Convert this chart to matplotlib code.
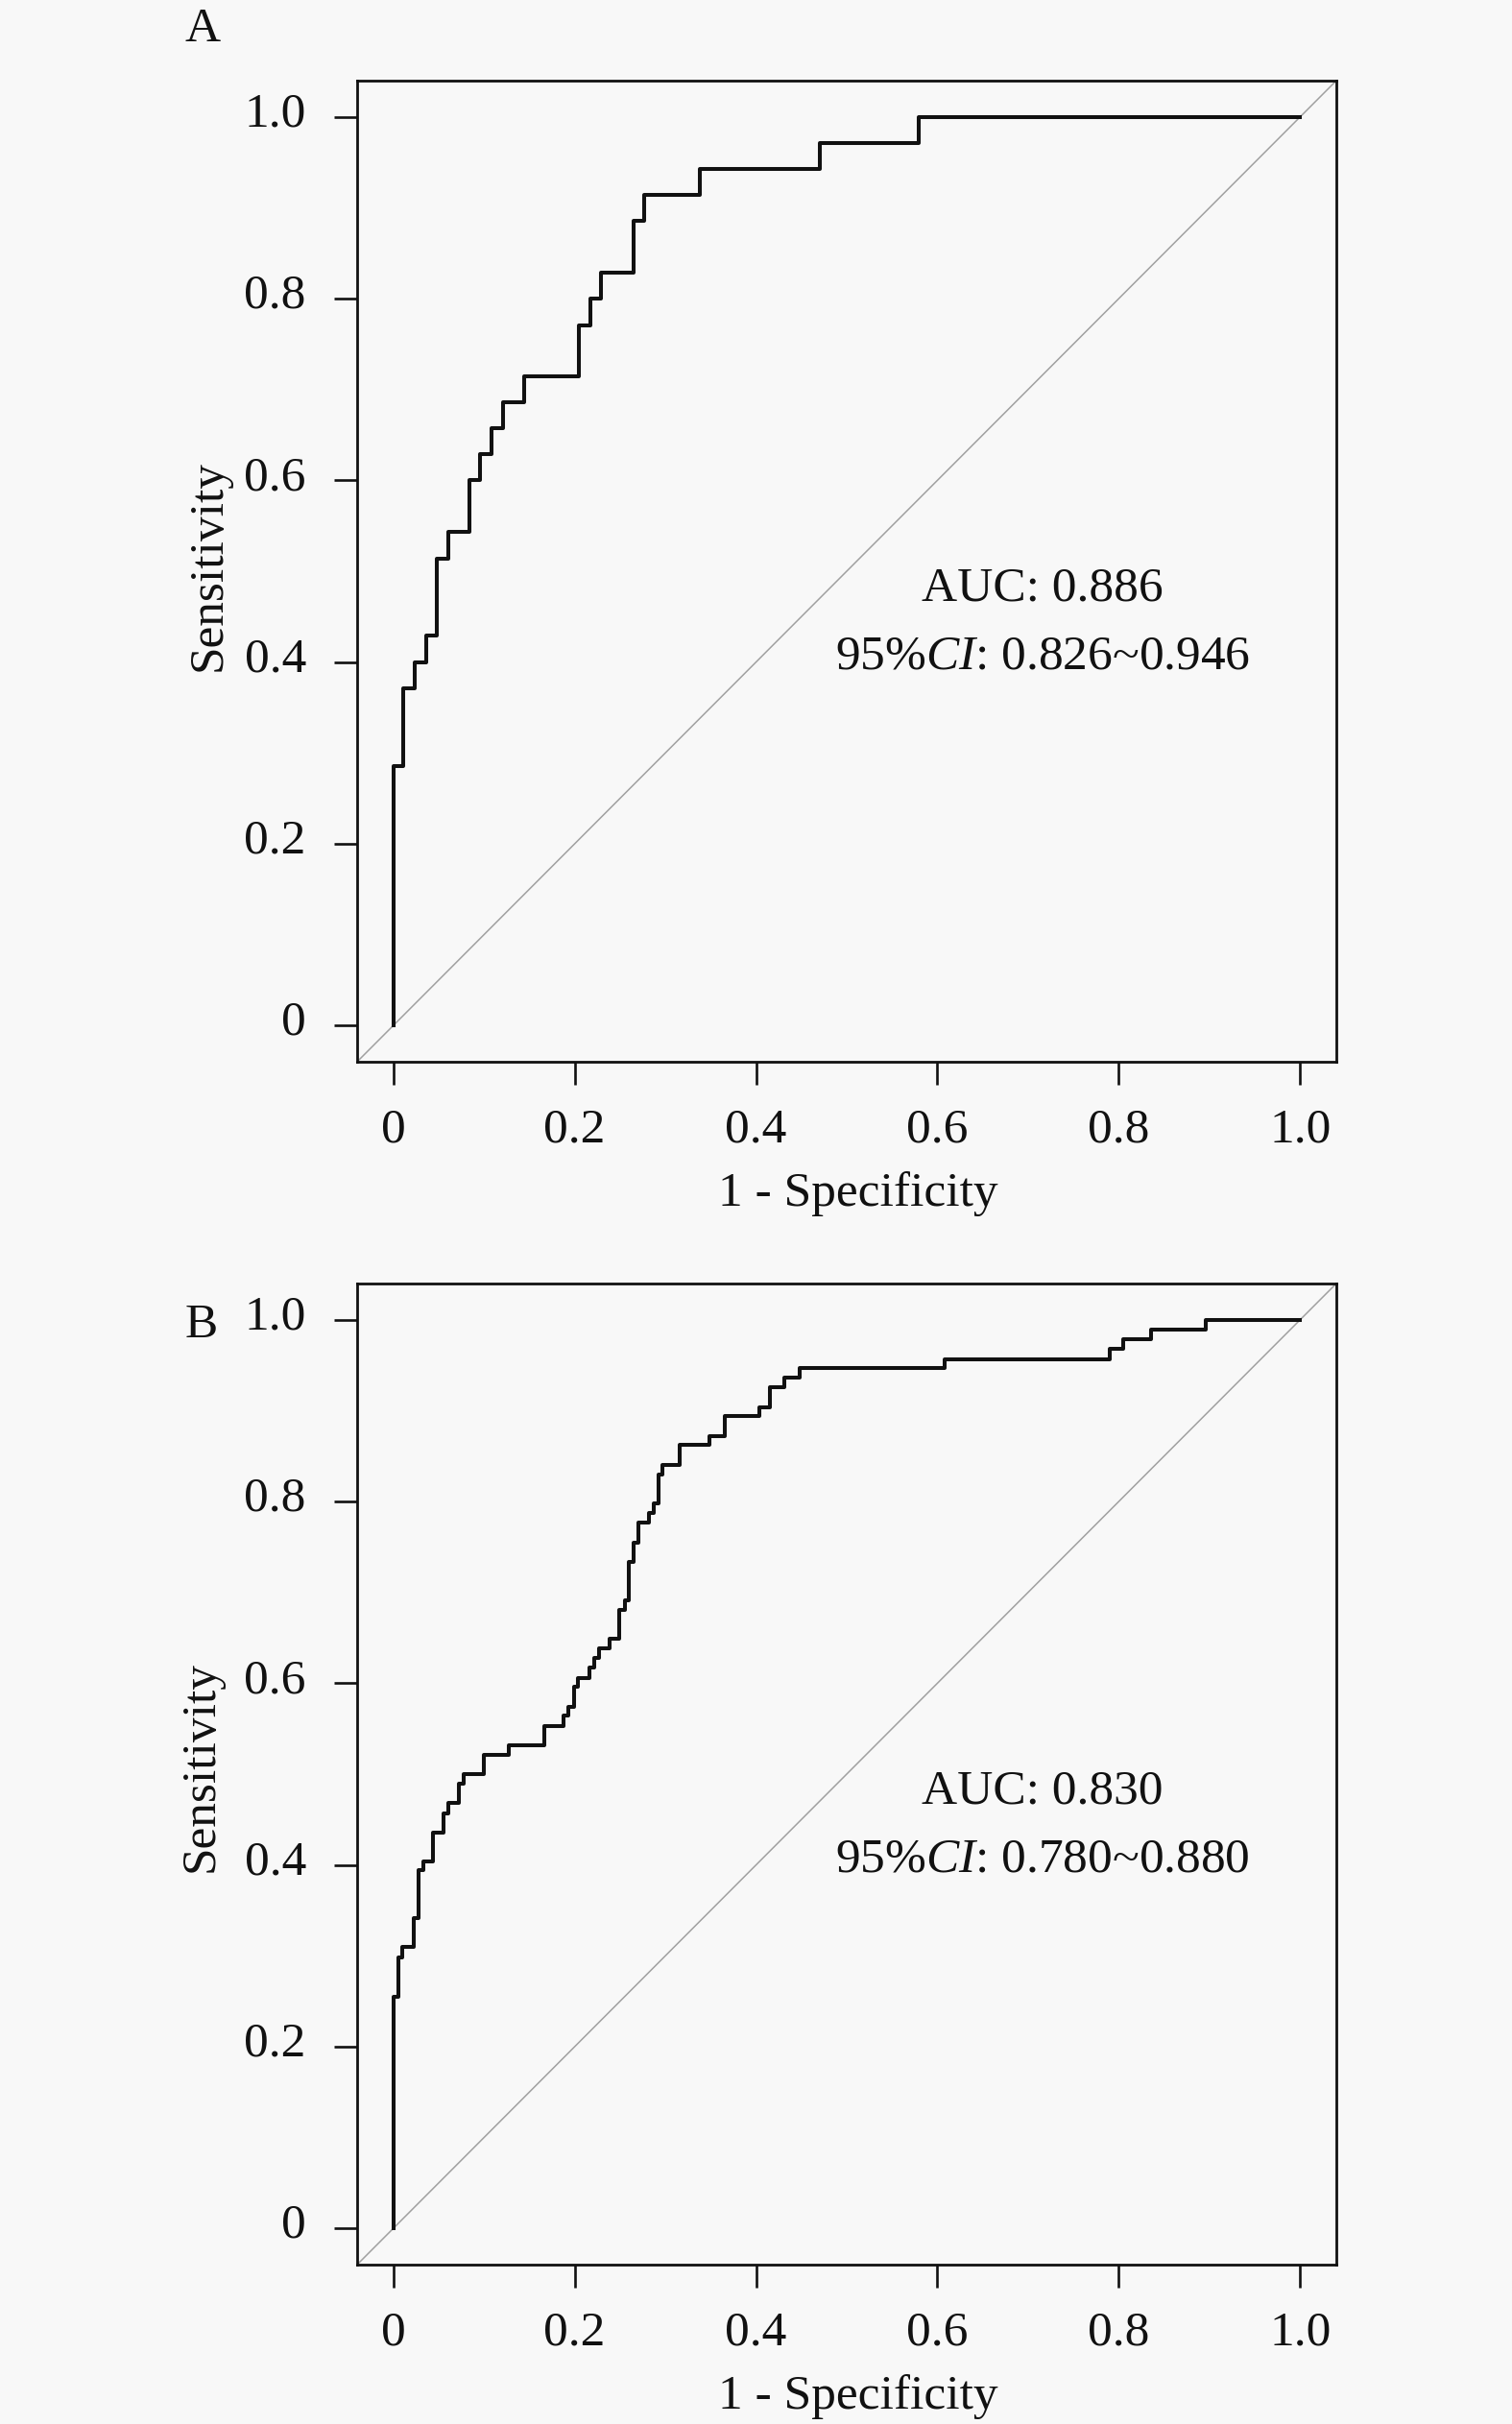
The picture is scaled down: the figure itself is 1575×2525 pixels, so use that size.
import matplotlib
matplotlib.use('Agg')
import matplotlib.pyplot as plt
import matplotlib.transforms as mtransforms

# ---------------- data ----------------
panel_labels = ['A', 'B']

# ROC corner points (1 - specificity, sensitivity)
fpr_a = [0, 0, 0.011, 0.023, 0.036, 0.048, 0.061, 0.084, 0.096, 0.108, 0.121,
         0.144, 0.205, 0.217, 0.229, 0.265, 0.277, 0.338, 0.470, 0.579, 1.0]
tpr_a = [0, 0.286, 0.371, 0.400, 0.429, 0.514, 0.543, 0.600, 0.629, 0.657, 0.686,
         0.714, 0.771, 0.800, 0.829, 0.886, 0.914, 0.943, 0.971, 1.0, 1.0]

fpr_b = [0, 0, 0.005, 0.010, 0.022, 0.028, 0.033, 0.044, 0.055, 0.061, 0.072,
         0.077, 0.100, 0.127, 0.166, 0.188, 0.193, 0.199, 0.204, 0.216, 0.222,
         0.227, 0.238, 0.249, 0.255, 0.260, 0.265, 0.270, 0.282, 0.287, 0.292,
         0.297, 0.316, 0.349, 0.365, 0.404, 0.415, 0.431, 0.448, 0.608, 0.790,
         0.805, 0.836, 0.896, 1.0]
tpr_b = [0, 0.255, 0.298, 0.310, 0.341, 0.394, 0.404, 0.436, 0.457, 0.468, 0.489,
         0.500, 0.521, 0.532, 0.553, 0.564, 0.574, 0.596, 0.606, 0.617, 0.628,
         0.638, 0.649, 0.681, 0.691, 0.734, 0.755, 0.777, 0.787, 0.798, 0.830,
         0.840, 0.862, 0.872, 0.894, 0.904, 0.926, 0.936, 0.947, 0.957, 0.968,
         0.979, 0.989, 1.0, 1.0]

auc_values = ['0.886', '0.830']
ci_values = ['0.826~0.946', '0.780~0.880']

tick_values = [0, 0.2, 0.4, 0.6, 0.8, 1.0]
tick_labels = ['0', '0.2', '0.4', '0.6', '0.8', '1.0']

x_label = '1 - Specificity'
y_label = 'Sensitivity'

# ---------------- style ----------------
plt.rcParams['font.family'] = ['Liberation Serif', 'DejaVu Serif']
plt.rcParams['mathtext.fontset'] = 'custom'
plt.rcParams['mathtext.rm'] = 'Liberation Serif'
plt.rcParams['mathtext.it'] = 'Liberation Serif:italic'

W, H, DPI = 1575, 2525, 100
BG = '#f8f8f8'
FS = 37

fig = plt.figure(figsize=(W / DPI, H / DPI), dpi=DPI, facecolor=BG)

curves = [(fpr_a, tpr_a), (fpr_b, tpr_b)]
axes_top_px = [84, 1337]
axes_left_px, axes_w_px, axes_h_px = 372, 1020, 1022
ylabel_pos = [(230, 589), (222, 1840)]
panel_pos = [(211, 43), (210, 1393)]

for i in range(2):
    top = axes_top_px[i]
    bottom = top + axes_h_px
    ax = fig.add_axes([axes_left_px / W, 1 - bottom / H, axes_w_px / W, axes_h_px / H])
    ax.set_facecolor(BG)

    ax.axline((0, 0), slope=1, color='#a0a0a0', lw=1.1, zorder=1)
    fpr, tpr = curves[i]
    ax.plot(fpr, tpr, drawstyle='steps-post', color='#111111', lw=2.9, zorder=2)

    ax.set_xlim(-0.04, 1.04)
    ax.set_ylim(-0.04, 1.04)
    ax.set_xticks(tick_values)
    ax.set_xticklabels(tick_labels)
    ax.set_yticks(tick_values)
    ax.set_yticklabels(tick_labels)
    ax.tick_params(direction='out', length=17.3, width=1.9, labelsize=FS, colors='#111111')
    ax.tick_params(axis='x', pad=17)
    ax.tick_params(axis='y', pad=21)
    for lab in ax.get_yticklabels():
        lab.set_transform(lab.get_transform() +
                          mtransforms.ScaledTranslation(0, 8 / DPI, fig.dpi_scale_trans))
    for sp in ax.spines.values():
        sp.set_linewidth(2.0)
        sp.set_color('#111111')

    ax.text(0.716, 0.468, f'AUC: {auc_values[i]}', ha='center', va='baseline',
            fontsize=FS, color='#111111')
    ax.text(0.716, 0.393, r'95%$\mathit{CI}$: ' + ci_values[i], ha='center',
            va='baseline', fontsize=FS, color='#111111')

    # axis labels
    fig.text(894 / W, 1 - (bottom + 150) / H, x_label, ha='center', va='baseline',
             fontsize=FS, color='#111111')
    yx, yy = ylabel_pos[i]
    fig.text(yx / W, 1 - yy / H, y_label, rotation=90, rotation_mode='anchor',
             ha='center', va='baseline', fontsize=FS, color='#111111')
    px, py = panel_pos[i]
    fig.text(px / W, 1 - py / H, panel_labels[i], ha='center', va='baseline',
             fontsize=FS, color='#111111')

fig.savefig('out.png', dpi=DPI, facecolor=BG)
